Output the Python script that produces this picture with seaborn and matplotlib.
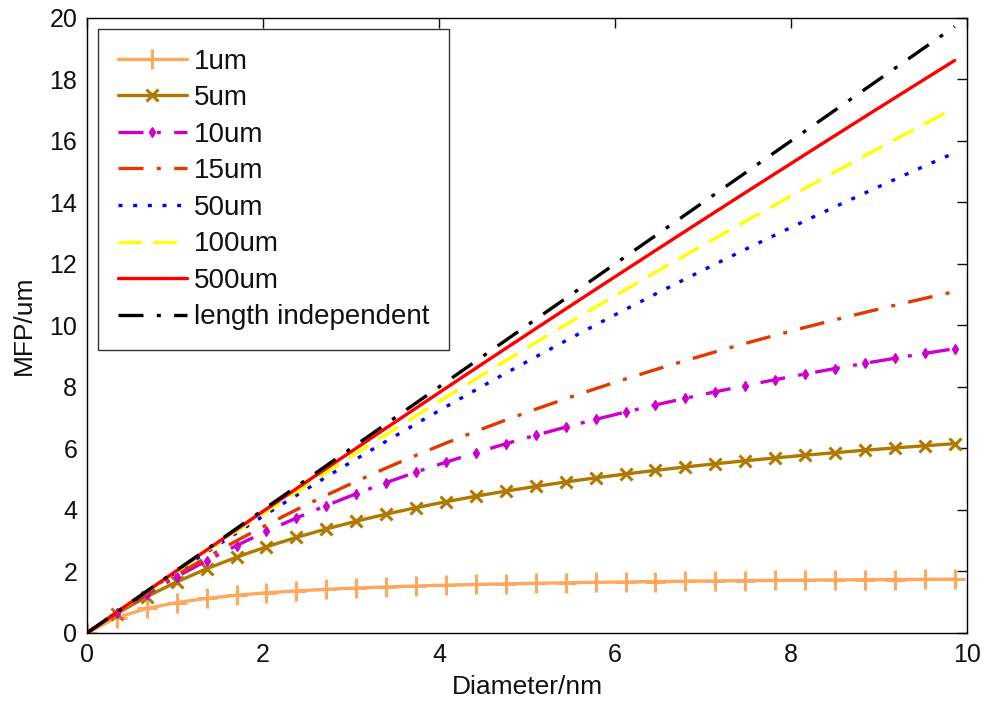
import matplotlib
matplotlib.use("Agg")
import matplotlib.pyplot as plt
import seaborn as sns
import pandas as pd

diameter = [0.00, 0.34, 0.68, 1.02, 1.36, 1.70, 2.04, 2.38, 2.72, 3.06,
            3.40, 3.74, 4.08, 4.42, 4.76, 5.10, 5.44, 5.78, 6.12, 6.46,
            6.80, 7.14, 7.48, 7.82, 8.16, 8.50, 8.84, 9.18, 9.52, 9.86]

mfp_1um = [0.000, 0.502, 0.796, 0.989, 1.125, 1.227, 1.306, 1.368, 1.419, 1.462,
           1.497, 1.528, 1.554, 1.577, 1.598, 1.616, 1.632, 1.647, 1.660, 1.672,
           1.682, 1.692, 1.702, 1.710, 1.718, 1.725, 1.732, 1.738, 1.744, 1.750]
mfp_5um = [0.000, 0.632, 1.181, 1.661, 2.086, 2.464, 2.802, 3.107, 3.383, 3.635,
           3.864, 4.075, 4.268, 4.447, 4.613, 4.767, 4.911, 5.044, 5.170, 5.287,
           5.398, 5.502, 5.600, 5.692, 5.780, 5.863, 5.942, 6.017, 6.088, 6.156]
mfp_10um = [0.000, 0.654, 1.261, 1.826, 2.352, 2.844, 3.305, 3.738, 4.144, 4.528,
            4.889, 5.231, 5.555, 5.862, 6.153, 6.430, 6.694, 6.946, 7.185, 7.415,
            7.634, 7.843, 8.044, 8.237, 8.421, 8.599, 8.770, 8.933, 9.092, 9.244]
mfp_15um = [0.000, 0.662, 1.291, 1.888, 2.457, 2.999, 3.515, 4.009, 4.480, 4.932,
            5.364, 5.778, 6.176, 6.558, 6.925, 7.278, 7.617, 7.944, 8.260, 8.564,
            8.857, 9.141, 9.415, 9.680, 9.936, 10.184, 10.424, 10.657, 10.882, 11.101]
mfp_50um = [0.000, 0.674, 1.336, 1.986, 2.625, 3.253, 3.870, 4.476, 5.072, 5.658,
            6.235, 6.802, 7.359, 7.908, 8.448, 8.979, 9.502, 10.016, 10.523, 11.021,
            11.512, 11.996, 12.472, 12.941, 13.403, 13.859, 14.307, 14.749, 15.185, 15.614]
mfp_100um = [0.000, 0.676, 1.346, 2.008, 2.663, 3.311, 3.953, 4.588, 5.217, 5.839,
             6.454, 7.064, 7.667, 8.265, 8.856, 9.442, 10.022, 10.596, 11.164, 11.727,
             12.284, 12.837, 13.383, 13.925, 14.462, 14.993, 15.520, 16.041, 16.558, 17.070]
mfp_500um = [0.000, 0.679, 1.354, 2.028, 2.698, 3.366, 4.031, 4.693, 5.353, 6.010,
             6.664, 7.316, 7.965, 8.611, 9.255, 9.897, 10.536, 11.172, 11.806, 12.437,
             13.066, 13.693, 14.317, 14.938, 15.557, 16.174, 16.789, 17.401, 18.010, 18.617]
mfp_indep = [0.00, 0.68, 1.36, 2.04, 2.72, 3.40, 4.08, 4.76, 5.44, 6.12,
             6.80, 7.48, 8.16, 8.84, 9.52, 10.20, 10.88, 11.56, 12.24, 12.92,
             13.60, 14.28, 14.96, 15.64, 16.32, 17.00, 17.68, 18.36, 19.04, 19.72]

labels = ["1um", "5um", "10um", "15um", "50um", "100um", "500um", "length independent"]
series = [mfp_1um, mfp_5um, mfp_10um, mfp_15um, mfp_50um, mfp_100um, mfp_500um, mfp_indep]
colors = ["#FFA860", "#AF7800", "#CC00CC", "#E03A00", "#0000FF", "#FFFF00", "#FF0000", "#000000"]
dashdot = (0, (7.5, 4, 1.2, 4))
linestyles = ["-", "-", dashdot, dashdot, (0, (1.2, 3.2)), (0, (7, 3.5)), "-", dashdot]
markers = ["+", "x", "d", None, None, None, None, None]
msizes = [15, 9, 5.5, None, None, None, None, None]

sns.set_theme(style="white")
plt.rcParams["font.family"] = ["Liberation Sans", "DejaVu Sans"]

fig = plt.figure(figsize=(9.86, 7.04), dpi=100)
ax = fig.add_axes([0.0882, 0.1009, 0.8925, 0.8736])

for lab, vals, col, ls, mk, ms in zip(labels, series, colors, linestyles, markers, msizes):
    df = pd.DataFrame({"Diameter": diameter, "MFP": vals})
    kw = dict(color=col, linestyle=ls, linewidth=2.4, label=lab)
    if mk is not None:
        kw.update(marker=mk, markersize=ms, markeredgewidth=2.2 if mk != "d" else 1,
                  markeredgecolor=col, markerfacecolor=col)
    sns.lineplot(data=df, x="Diameter", y="MFP", ax=ax, **kw)

ax.set_xlim(0, 10)
ax.set_ylim(0, 20)
ax.set_xticks(range(0, 11, 2))
ax.set_yticks(range(0, 21, 2))
ax.tick_params(direction="in", length=7, width=1, top=True, right=True,
               labelsize=18, colors="#111111", pad=7)
for s in ax.spines.values():
    s.set_color("black")
    s.set_linewidth(1)
ax.set_xlabel("Diameter/nm", fontsize=19, labelpad=6, color="#111111")
ax.set_ylabel("MFP/um", fontsize=19, labelpad=10, color="#111111")

leg = ax.legend(loc="upper left", fontsize=20, frameon=True, fancybox=False,
                edgecolor="black", handlelength=2.5, labelspacing=0.38,
                borderaxespad=0.4, handletextpad=0.25, borderpad=0.7)
leg.get_frame().set_linewidth(1)
for t in leg.get_texts():
    t.set_color("#111111")

fig.savefig("out.png", dpi=100)
